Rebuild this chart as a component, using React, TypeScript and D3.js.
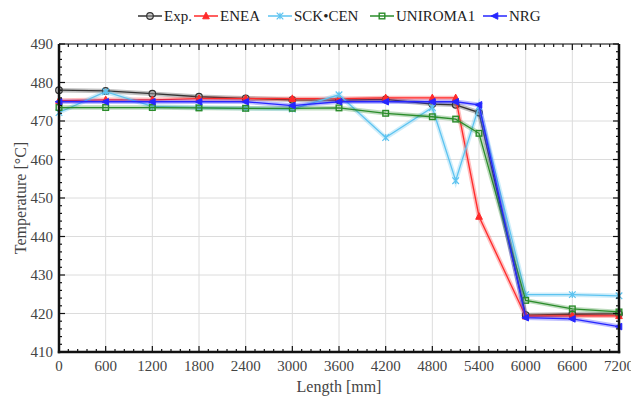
import * as React from 'react';
import * as d3 from 'd3';

const lengths = [0, 600, 1200, 1800, 2400, 3000, 3600, 4200, 4800, 5100, 5400, 6000, 6600, 7200];
const expValues = [478, 477.8, 477.1, 476.3, 475.9, 475.5, 475.4, 475.6, 474.4, 474.2, 472.2, 419.6, 419.8, 419.9];
const eneaValues = [475.3, 475.5, 475.5, 475.8, 475.8, 475.8, 475.8, 476, 476, 476, 445.2, 419.3, 419.4, 419.4];
const sckValues = [472.2, 477.6, 473.8, 473.5, 473.3, 473.1, 476.8, 465.7, 473.5, 454.5, 473.8, 424.9, 424.9, 424.6];
const uniromaValues = [473.5, 473.5, 473.5, 473.4, 473.3, 473.3, 473.4, 472, 471.1, 470.5, 466.8, 423.4, 421.2, 420.4];
const nrgValues = [475, 475, 475, 475, 475, 474, 475, 475, 475, 475, 474.2, 418.9, 418.6, 416.6];

const xTicks = [0, 600, 1200, 1800, 2400, 3000, 3600, 4200, 4800, 5400, 6000, 6600, 7200];
const yTicks = [410, 420, 430, 440, 450, 460, 470, 480, 490];

type Marker = 'circle' | 'triangle' | 'star' | 'square' | 'left';

const series: { name: string; values: number[]; color: string; marker: Marker }[] = [
  { name: 'Exp.', values: expValues, color: '#333333', marker: 'circle' },
  { name: 'ENEA', values: eneaValues, color: '#ff2a2a', marker: 'triangle' },
  { name: 'SCK\u2022CEN', values: sckValues, color: '#5cc3f0', marker: 'star' },
  { name: 'UNIROMA1', values: uniromaValues, color: '#2b8c2b', marker: 'square' },
  { name: 'NRG', values: nrgValues, color: '#2626ff', marker: 'left' },
];

// legend layout (line start x for each entry)
const legendX = [138, 194, 268, 370, 483];

const W = 631;
const H = 399;
const margin = { left: 59, right: 12, top: 44, bottom: 47 };
const FONT = 'Liberation Serif, DejaVu Serif, serif';

function MarkerShape({ kind, x, y, color }: { kind: Marker; x: number; y: number; color: string }) {
  const s = 3.3;
  if (kind === 'circle')
    return <circle cx={x} cy={y} r={s} fill="#999" fillOpacity={0.5} stroke={color} strokeWidth={1.2} />;
  if (kind === 'triangle')
    return (
      <path
        d={`M${x},${y - s - 0.5}L${x + s},${y + s - 0.5}L${x - s},${y + s - 0.5}Z`}
        fill={color}
        stroke={color}
        strokeWidth={1}
      />
    );
  if (kind === 'square')
    return <rect x={x - 2.8} y={y - 2.8} width={5.6} height={5.6} fill="none" stroke={color} strokeWidth={1.4} />;
  if (kind === 'left')
    return (
      <path
        d={`M${x - s - 0.5},${y}L${x + s - 0.5},${y - s}L${x + s - 0.5},${y + s}Z`}
        fill={color}
        stroke={color}
        strokeWidth={1}
      />
    );
  return (
    <path
      d={`M${x - s},${y - s}L${x + s},${y + s}M${x - s},${y + s}L${x + s},${y - s}M${x},${y - s}L${x},${y + s}`}
      stroke={color}
      strokeWidth={1.2}
      fill="none"
    />
  );
}

export default function App() {
  const x = d3.scaleLinear().domain([0, 7200]).range([margin.left, W - margin.right]);
  const y = d3.scaleLinear().domain([410, 490]).range([H - margin.bottom, margin.top]);
  const line = d3
    .line<number>()
    .x((_, i) => x(lengths[i]))
    .y((d) => y(d));

  const x0 = x(0);
  const x1 = x(7200);
  const y0 = y(410);
  const y1 = y(490);
  const xMinor = d3.range(0, 7201, 120);
  const yMinor = d3.range(410, 491, 2);

  return (
    <svg width={W} height={H} style={{ position: 'absolute', left: 0, top: 0 }} fontFamily={FONT}>
      <rect width={W} height={H} fill="#fff" />
      {/* grid */}
      <g stroke="#dcdcdc" strokeWidth={1}>
        {xTicks.map((t) => (
          <line key={'gx' + t} x1={x(t)} x2={x(t)} y1={y0} y2={y1} />
        ))}
        {yTicks.map((t) => (
          <line key={'gy' + t} x1={x0} x2={x1} y1={y(t)} y2={y(t)} />
        ))}
      </g>

      {/* series */}
      {series.map((s) => (
        <g key={s.name}>
          <path d={line(s.values) || ''} fill="none" stroke={s.color} strokeOpacity={0.3} strokeWidth={4.5} />
          <path d={line(s.values) || ''} fill="none" stroke={s.color} strokeWidth={1.3} />
          {s.values.map((v, i) => (
            <MarkerShape key={i} kind={s.marker} x={x(lengths[i])} y={y(v)} color={s.color} />
          ))}
        </g>
      ))}

      {/* ticks */}
      <g stroke="#111" strokeWidth={1.2}>
        {xMinor.map((t) => {
          const len = t % 600 === 0 ? 6 : 3;
          return (
            <g key={'tx' + t}>
              <line x1={x(t)} x2={x(t)} y1={y0} y2={y0 - len} />
              <line x1={x(t)} x2={x(t)} y1={y1} y2={y1 + len} />
            </g>
          );
        })}
        {yMinor.map((t) => {
          const len = t % 10 === 0 ? 6 : 3;
          return (
            <g key={'ty' + t}>
              <line x1={x0} x2={x0 + len} y1={y(t)} y2={y(t)} />
              <line x1={x1} x2={x1 - len} y1={y(t)} y2={y(t)} />
            </g>
          );
        })}
      </g>

      {/* frame */}
      <line x1={x0} x2={x1} y1={y1} y2={y1} stroke="#111" strokeWidth={1.2} />
      <line x1={x0} x2={x0} y1={y1} y2={y0 + 1.2} stroke="#111" strokeWidth={2.5} />
      <line x1={x1} x2={x1} y1={y1} y2={y0 + 1.2} stroke="#111" strokeWidth={2.5} />
      <line x1={x0 - 1.2} x2={x1 + 1.2} y1={y0} y2={y0} stroke="#111" strokeWidth={2.5} />

      {/* tick labels */}
      <g fontSize={15} fill="#444">
        {xTicks.map((t) => (
          <text key={'lx' + t} x={x(t)} y={y0 + 19} textAnchor="middle">
            {t}
          </text>
        ))}
        {yTicks.map((t) => (
          <text key={'ly' + t} x={x0 - 6} y={y(t) + 5} textAnchor="end">
            {t}
          </text>
        ))}
      </g>

      <text x={(x0 + x1) / 2} y={H - 7} textAnchor="middle" fontSize={16} fill="#444">
        Length [mm]
      </text>
      <text transform={`translate(26,${(y0 + y1) / 2}) rotate(-90)`} textAnchor="middle" fontSize={16} fill="#444">
        Temperature [°C]
      </text>

      {/* legend */}
      {series.map((s, i) => (
        <g key={'lg' + s.name}>
          <line x1={legendX[i]} x2={legendX[i] + 24} y1={16} y2={16} stroke={s.color} strokeWidth={1.5} />
          <MarkerShape kind={s.marker} x={legendX[i] + 12} y={16} color={s.color} />
          <text x={legendX[i] + 26} y={21} fontSize={15} fill="#222">
            {s.name}
          </text>
        </g>
      ))}
    </svg>
  );
}
